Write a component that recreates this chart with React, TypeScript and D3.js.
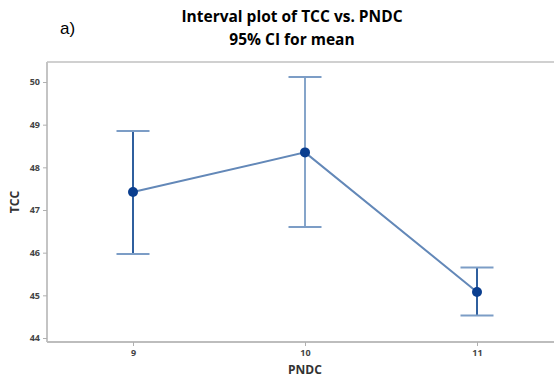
import { useEffect, useRef } from "react";
import * as d3 from "d3";

const categories = [9, 10, 11];
const means = [47.42, 48.35, 45.08];
const lowers = [45.97, 46.6, 44.53];
const uppers = [48.85, 50.12, 45.65];
const yTicks = [44, 45, 46, 47, 48, 49, 50];

export default function App() {
  const svgRef = useRef<SVGSVGElement>(null);

  useEffect(() => {
    const svg = d3.select(svgRef.current);
    svg.selectAll("*").remove();

    const w = 554;
    const h = 381;
    const left = 47;
    const top = 62;
    const bottom = 342;

    const x = d3.scaleLinear().domain([8.5, 11.5]).range([left, 563]);
    const y = d3.scaleLinear().domain([44, 50]).range([338, 82]);

    svg.attr("width", w).attr("height", h);

    // titles
    svg.append("text")
      .attr("x", 60).attr("y", 34)
      .style("font-family", "Liberation Sans, Arial, sans-serif")
      .style("font-size", "17px")
      .text("a)");

    const title = svg.append("g")
      .style("font-family", "Open Sans, sans-serif")
      .style("font-weight", "bold")
      .style("font-size", "15.5px")
      .attr("text-anchor", "middle");
    title.append("text").attr("x", 292).attr("y", 22).text("Interval plot of TCC vs. PNDC");
    title.append("text").attr("x", 292).attr("y", 45).text("95% CI for mean");

    // frame (right side falls outside the picture)
    const frame = svg.append("g").attr("fill", "none").attr("stroke-width", 2);
    frame.append("line").attr("x1", left).attr("x2", w).attr("y1", top).attr("y2", top).attr("stroke", "#d0d0d0");
    frame.append("line").attr("x1", left).attr("x2", left).attr("y1", top).attr("y2", bottom).attr("stroke", "#c4c4c4");
    frame.append("line").attr("x1", left).attr("x2", w).attr("y1", bottom).attr("y2", bottom).attr("stroke", "#bdbdbd");

    // y axis
    const yAxis = svg.append("g")
      .attr("transform", `translate(${left},0)`)
      .call(d3.axisLeft(y).tickValues(yTicks).tickSize(4).tickPadding(3).tickFormat(d3.format("d")));
    yAxis.select(".domain").remove();
    yAxis.selectAll("line").attr("stroke", "#b0b0b0");
    yAxis.selectAll("text")
      .style("font-family", "Open Sans, sans-serif")
      .style("font-size", "9px")
      .style("font-weight", "bold")
      .attr("fill", "#444");

    // x axis
    const xAxis = svg.append("g")
      .attr("transform", `translate(0,${bottom})`)
      .call(d3.axisBottom(x).tickValues(categories).tickSize(4).tickPadding(4).tickFormat(d3.format("d")));
    xAxis.select(".domain").remove();
    xAxis.selectAll("line").attr("stroke", "#b0b0b0");
    xAxis.selectAll("text")
      .style("font-family", "Open Sans, sans-serif")
      .style("font-size", "9px")
      .style("font-weight", "bold")
      .attr("fill", "#444");

    // axis labels
    svg.append("text")
      .attr("transform", `translate(19,${(top + bottom) / 2}) rotate(-90)`)
      .attr("text-anchor", "middle")
      .style("font-family", "Open Sans, sans-serif")
      .style("font-weight", "bold")
      .style("font-size", "12px")
      .attr("fill", "#333")
      .text("TCC");
    svg.append("text")
      .attr("x", x(10)).attr("y", 374)
      .attr("text-anchor", "middle")
      .style("font-family", "Open Sans, sans-serif")
      .style("font-weight", "bold")
      .style("font-size", "12px")
      .attr("fill", "#333")
      .text("PNDC");

    const rows = categories.map((c, i) => ({ c, m: means[i], lo: lowers[i], hi: uppers[i] }));
    const capHalf = 16.5;
    const barColor = ["#2f5f9e", "#86a5ca", "#2f5f9e"];

    // interval bars
    const bars = svg.append("g");
    rows.forEach((d, i) => {
      bars.append("line")
        .attr("x1", x(d.c)).attr("x2", x(d.c))
        .attr("y1", y(d.hi)).attr("y2", y(d.lo))
        .attr("stroke", barColor[i]).attr("stroke-width", 2);
      [d.hi, d.lo].forEach(v => {
        bars.append("line")
          .attr("x1", x(d.c) - capHalf).attr("x2", x(d.c) + capHalf)
          .attr("y1", y(v)).attr("y2", y(v))
          .attr("stroke", "#7c9dc6").attr("stroke-width", 2);
      });
    });

    // connect line
    const line = d3.line<typeof rows[0]>().x(d => x(d.c)).y(d => y(d.m));
    svg.append("path")
      .attr("d", line(rows))
      .attr("fill", "none")
      .attr("stroke", "#6388b8")
      .attr("stroke-width", 2);

    svg.append("g").selectAll("circle")
      .data(rows)
      .enter()
      .append("circle")
      .attr("cx", d => x(d.c))
      .attr("cy", d => y(d.m))
      .attr("r", 5)
      .attr("fill", "#0a3e8f");
  }, []);

  return <svg ref={svgRef} style={{ position: "absolute", left: 0, top: 0 }}></svg>;
}
